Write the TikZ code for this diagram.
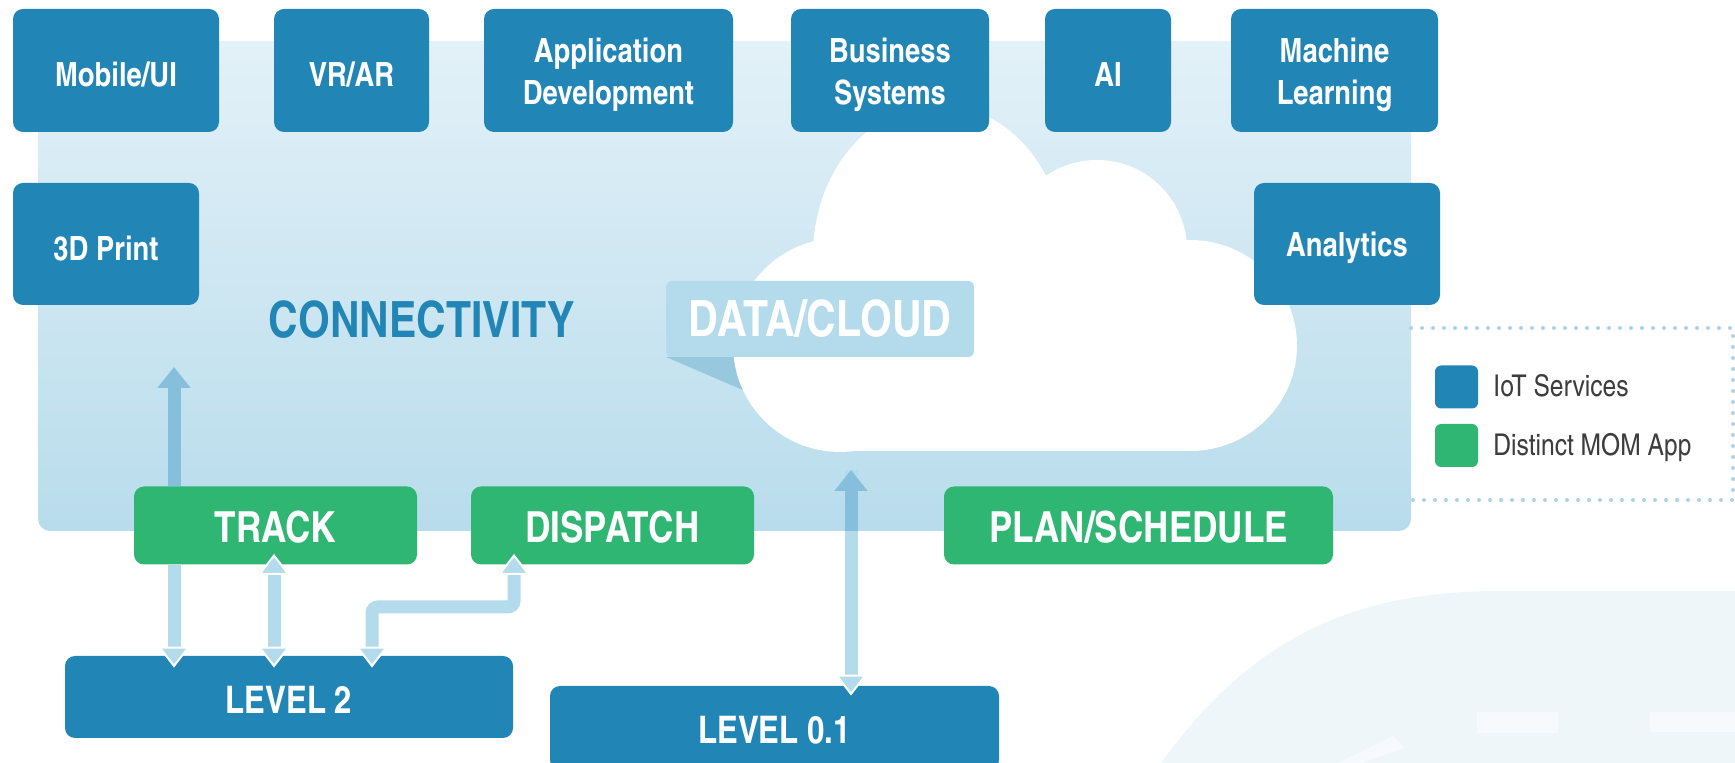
\documentclass[tikz,border=0pt]{standalone}
\usepackage{fontspec}
\newfontfamily\condfont{TeX Gyre Heros Cn}
\usetikzlibrary{arrows.meta,calc}

\definecolor{iotblue}{RGB}{33,134,182}
\definecolor{momgreen}{RGB}{47,182,115}
\definecolor{paneltop}{RGB}{227,241,248}
\definecolor{panelbot}{RGB}{184,220,236}
\definecolor{linklight}{RGB}{179,219,235}
\definecolor{linkdark}{RGB}{134,191,220}
\definecolor{tailc}{RGB}{152,200,222}
\definecolor{dotc}{RGB}{169,211,230}
\definecolor{paledeco}{RGB}{238,246,250}
\definecolor{legtext}{RGB}{61,61,61}

\newcommand{\tilefont}{\condfont\bfseries\fontsize{16.7}{21}\selectfont}
\newcommand{\appfont}{\condfont\bfseries\fontsize{21.4}{24}\selectfont}
\newcommand{\levelfont}{\condfont\bfseries\fontsize{19}{22}\selectfont}
\newcommand{\headfont}{\condfont\bfseries\fontsize{25}{28}\selectfont}
\newcommand{\keyfont}{\condfont\fontsize{15}{17}\selectfont}
\newcommand{\tallline}{\rule{0pt}{16.4pt}}

\begin{document}
\begin{tikzpicture}[
x=0.5pt,
y=-0.5pt,
iotbox/.style={
fill=iotblue,
text=white,
rounded corners=5pt,
align=center,
inner sep=0pt,
font=\tilefont,
execute at begin node={\tallline},
},
momstep/.style={
fill=momgreen,
text=white,
rounded corners=5pt,
inner sep=0pt,
minimum height=39pt,
font=\appfont,
execute at begin node={\rule{0pt}{17.4pt}},
},
levelbox/.style={
fill=iotblue,
text=white,
rounded corners=5pt,
inner sep=0pt,
font=\levelfont,
execute at begin node={\rule{0pt}{16.2pt}},
},
keybox/.style={
rounded corners=3pt,
minimum size=21.5pt,
inner sep=0pt,
},
boxtip/.tip={Triangle[length=10.5pt 0,width=16pt 0,line width'=1pt,color=white,fill=linklight]},
panetip/.tip={Triangle[length=10.5pt 0,width=16pt 0,color=linkdark,fill=linkdark]},
lnk/.style={
draw=linklight,
line width=6.5pt,
},
lnkdark/.style={
draw=linkdark,
line width=6.5pt,
},
]
\useasboundingbox (0,0) rectangle (1735,763);
\clip (0,0) rectangle (1735,763);

\fill[paledeco] (1161,763) .. controls (1250,640) and (1350,591) .. (1500,591) -- (1735,591) -- (1735,763) -- cycle;
\fill[white,opacity=0.5] (1477,712) rectangle (1558,733);
\fill[white,opacity=0.5] (1650,712) rectangle (1735,732);
\fill[white,opacity=0.5] (1338,763) -- (1393,736) -- (1404,748) -- (1362,763) -- cycle;

\shade[top color=paneltop,bottom color=panelbot,rounded corners=6pt] (38,41) rectangle (1411,531);
\draw[dotc,line width=2pt,line cap=round,dash pattern=on 0pt off 5.5pt] (1411,328) -- (1733,328) -- (1733,500) -- (1411,500);

% cloud
\fill[tailc] (666,357) -- (752,394) -- (752,357) -- cycle;
\fill[white] (939,255) ellipse [x radius=63pt,y radius=75pt];
\fill[white] (1097,250) circle [radius=45pt];
\fill[white] (1190,345.5) ellipse [x radius=53.5pt,y radius=52.75pt];
\fill[white] (840,345) circle [radius=53.5pt];
\fill[white] (840,260) rectangle (1190,451);

\node[fill=linklight,rounded corners=3pt,minimum width=154pt,minimum height=38pt,text=white,font=\headfont] at (820,319) (datacloud) {DATA/CLOUD};
\node[text=iotblue,font=\headfont] at (422,320) (connect) {CONNECTIVITY};

\node[iotbox,minimum width=103pt,minimum height=61.5pt] at (116,70.5) (mobile) {Mobile/UI};
\node[iotbox,minimum width=77.5pt,minimum height=61.5pt] at (351.5,70.5) (vrar) {VR/AR};
\node[iotbox,minimum width=124.5pt,minimum height=61.5pt] at (608.5,70.5) (appdev) {\tallline Application\\Development};
\node[iotbox,minimum width=99pt,minimum height=61.5pt] at (890,70.5) (business) {\tallline Business\\Systems};
\node[iotbox,minimum width=63pt,minimum height=61.5pt] at (1108,70.5) (ai) {AI};
\node[iotbox,minimum width=103.5pt,minimum height=61.5pt] at (1334.5,70.5) (ml) {\tallline Machine\\Learning};
\node[iotbox,minimum width=93pt,minimum height=61pt] at (106,244) (print) {3D Print};
\node[iotbox,minimum width=93pt,minimum height=61pt] at (1347,244) (analytics) {Analytics};

\node[momstep,minimum width=141.5pt] at (275.5,525.5) (track) {TRACK};
\node[momstep,minimum width=141.5pt] at (612.5,525.5) (dispatch) {DISPATCH};
\node[momstep,minimum width=194.5pt] at (1138.5,525.5) (plan) {PLAN/SCHEDULE};

\node[levelbox,minimum width=224pt,minimum height=41pt] at (289,697) (lvltwo) {LEVEL 2};
\node[levelbox,minimum width=224.5pt,minimum height=42pt] at (774.5,728) (lvlzero) {LEVEL 0.1};

\coordinate (trackup) at (174,367);
\coordinate (cloudin) at (851,470);

\draw[lnkdark,-panetip] (track.north -| trackup) -- (trackup);
\draw[lnk,-boxtip] (track.south -| trackup) -- ($(lvltwo.north -| trackup)+(0,12)$);
\draw[lnk,boxtip-boxtip] ($(track.south)+(-1.5,-11)$) -- ($(lvltwo.north)+(-15,12)$);
\draw[lnk,boxtip-boxtip,rounded corners=3pt] ($(dispatch.south)+(-98.5,-11)$) -- ++(0,53) -| ($(lvltwo.north)+(83,12)$);
\draw[lnk,-boxtip] (cloudin) -- ($(lvlzero.north -| cloudin)+(0,10)$);
\begin{scope}
\clip (38,41) rectangle (1411,531);
\draw[lnkdark,panetip-] (cloudin) -- ($(lvlzero.north -| cloudin)+(0,10)$);
\end{scope}

\node[keybox,fill=iotblue] at (1456.5,387) (legiot) {};
\node[keybox,fill=momgreen] at (1456.5,445.5) (legmom) {};
\node[anchor=base west,text=legtext,font=\keyfont,inner sep=0pt] at (1493,397) (legiottext) {IoT Services};
\node[anchor=base west,text=legtext,font=\keyfont,inner sep=0pt] at (1493,456) (legmomtext) {Distinct MOM App};

\end{tikzpicture}
\end{document}
